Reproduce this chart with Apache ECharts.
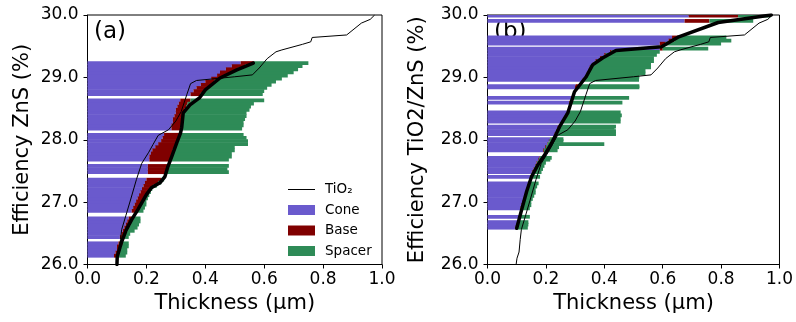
<!DOCTYPE html>
<html>
<head>
<meta charset="utf-8">
<script src="https://cdn.jsdelivr.net/npm/echarts@6/dist/echarts.min.js"></script>
<style>
  html, body { margin: 0; padding: 0; background: #ffffff; }
  #chart { width: 796px; height: 322px; }
</style>
</head>
<body>
<div id="chart"></div>
<script>
// ---- Axis ticks ----
const effTicks = [26, 27, 28, 29, 30];
const thickTicks = [0, 0.2, 0.4, 0.6, 0.8, 1.0];

// ---- (a) ZnS designs: efficiency (%) and layer thicknesses (µm) ----
const effA = [
  26.14, 26.19, 26.24, 26.29, 26.34,
  26.44, 26.49, 26.54, 26.59, 26.64, 26.69, 26.74,
  26.86, 26.91, 26.96, 27.01, 27.06, 27.11, 27.16, 27.21, 27.26, 27.31, 27.36,
  27.48, 27.53, 27.58,
  27.68, 27.73, 27.78, 27.83, 27.88, 27.93, 27.98, 28.03, 28.08,
  28.18, 28.23, 28.28, 28.33, 28.38, 28.43, 28.48, 28.53, 28.58, 28.63,
  28.73, 28.78, 28.83, 28.88, 28.93, 28.98, 29.03, 29.08, 29.13, 29.18, 29.23
];
const coneA = [
  0.090, 0.095, 0.100, 0.100, 0.105,
  0.110, 0.115, 0.120, 0.125, 0.130, 0.135, 0.140,
  0.150, 0.155, 0.160, 0.165, 0.170, 0.175, 0.180, 0.185, 0.190, 0.195, 0.200,
  0.205, 0.205, 0.205,
  0.210, 0.210, 0.215, 0.220, 0.230, 0.240, 0.250, 0.255, 0.260,
  0.285, 0.285, 0.290, 0.290, 0.295, 0.300, 0.300, 0.305, 0.310, 0.315,
  0.350, 0.360, 0.370, 0.385, 0.400, 0.420, 0.440, 0.450, 0.470, 0.490, 0.520
];
const baseA = [
  0.010, 0.010, 0.010, 0.015, 0.015,
  0.015, 0.015, 0.015, 0.015, 0.015, 0.015, 0.015,
  0.020, 0.020, 0.020, 0.025, 0.025, 0.025, 0.030, 0.030, 0.035, 0.045, 0.050,
  0.060, 0.065, 0.070,
  0.070, 0.075, 0.075, 0.070, 0.065, 0.060, 0.055, 0.055, 0.055,
  0.035, 0.035, 0.030, 0.035, 0.030, 0.025, 0.030, 0.030, 0.030, 0.035,
  0.035, 0.035, 0.040, 0.035, 0.030, 0.030, 0.030, 0.040, 0.040, 0.045, 0.045
];
const spacerA = [
  0.030, 0.030, 0.025, 0.025, 0.020,
  0.015, 0.015, 0.025, 0.030, 0.030, 0.030, 0.025,
  0.020, 0.020, 0.020, 0.010, 0.010, 0.010, 0.005, 0.005, 0.010, 0.010, 0.010,
  0.215, 0.205, 0.205,
  0.200, 0.205, 0.200, 0.210, 0.205, 0.245, 0.240, 0.230, 0.215,
  0.205, 0.210, 0.210, 0.210, 0.215, 0.215, 0.220, 0.220, 0.225, 0.250,
  0.210, 0.205, 0.200, 0.205, 0.210, 0.210, 0.210, 0.210, 0.205, 0.195, 0.185
];

// ---- (b) TiO2/ZnS designs ----
const effB = [
  26.59, 26.64, 26.68, 26.765,
  26.90, 26.95, 27.00, 27.05, 27.10, 27.15, 27.20, 27.25, 27.30,
  27.405,
  27.48, 27.53, 27.58, 27.63, 27.68, 27.71,
  27.83, 27.88, 27.93, 27.98, 28.01,
  28.09, 28.14, 28.19, 28.21,
  28.29, 28.34, 28.39, 28.44,
  28.595, 28.67, 28.84, 28.86,
  28.96, 29.01, 29.06, 29.11, 29.16, 29.21, 29.26, 29.31, 29.36, 29.41, 29.46,
  29.54, 29.59, 29.64,
  29.905, 29.99
];
const coneB = [
  0.094, 0.099, 0.103, 0.108,
  0.112, 0.116, 0.120, 0.124, 0.127, 0.130, 0.134, 0.137, 0.140,
  0.147,
  0.152, 0.158, 0.163, 0.168, 0.174, 0.178,
  0.190, 0.197, 0.204, 0.210, 0.214,
  0.230, 0.235, 0.240, 0.243,
  0.255, 0.262, 0.268, 0.272,
  0.280, 0.287, 0.300, 0.302,
  0.326, 0.334, 0.340, 0.345, 0.350, 0.360, 0.370, 0.385, 0.400, 0.420, 0.590,
  0.590, 0.620, 0.632,
  0.675, 0.689
];
const baseB = [
  0.002, 0.001, 0.002, 0.002,
  0.002, 0.002, 0.002, 0.002, 0.003, 0.002, 0.002, 0.003, 0.002,
  0.003,
  0.003, 0.002, 0.002, 0.002, 0.002, 0.002,
  0.003, 0.003, 0.002, 0.002, 0.002,
  0.002, 0.002, 0.002, 0.002,
  0.003, 0.003, 0.007, 0.006,
  0.003, 0.003, 0.010, 0.016,
  0.004, 0.003, 0.002, 0.002, 0.002, 0.003, 0.005, 0.010, 0.005, 0.005, 0.010,
  0.020, 0.020, 0.023,
  0.085, 0.169
];
const spacerB = [
  0.042, 0.040, 0.035, 0.035,
  0.031, 0.032, 0.028, 0.029, 0.030, 0.033, 0.029, 0.030, 0.033,
  0.030,
  0.030, 0.030, 0.030, 0.030, 0.039, 0.040,
  0.047, 0.045, 0.194, 0.048, 0.044,
  0.208, 0.203, 0.193, 0.195,
  0.198, 0.191, 0.185, 0.178,
  0.179, 0.195, 0.210, 0.202,
  0.189, 0.183, 0.199, 0.194, 0.208, 0.197, 0.195, 0.175, 0.175, 0.165, 0.156,
  0.190, 0.195, 0.163,
  0.150, 0.112
];

// ---- Reference curve: single TiO2 layer, thickness (µm) vs efficiency (%) ----
const tio2Curve = [
  [0.098, 26.00], [0.101, 26.10], [0.108, 26.20], [0.112, 26.40], [0.116, 26.56],
  [0.130, 26.78], [0.147, 27.05], [0.166, 27.36], [0.184, 27.62], [0.208, 27.80],
  [0.222, 27.92], [0.240, 28.07], [0.275, 28.16], [0.300, 28.30], [0.318, 28.45],
  [0.337, 28.72], [0.350, 28.90], [0.370, 28.95], [0.500, 29.01], [0.560, 29.04],
  [0.583, 29.15], [0.610, 29.30], [0.640, 29.41], [0.660, 29.44], [0.730, 29.53],
  [0.758, 29.57], [0.763, 29.64], [0.880, 29.68], [0.930, 29.87], [0.960, 29.93],
  [0.975, 30.00]
];

// ---- Best-design front (cone + base) for each panel ----
const frontA = [
  [0.100, 26.00], [0.101, 26.13], [0.115, 26.35], [0.132, 26.56], [0.150, 26.72],
  [0.171, 26.88], [0.200, 27.12], [0.217, 27.23], [0.246, 27.31], [0.263, 27.41],
  [0.273, 27.57], [0.286, 27.73], [0.303, 27.95], [0.316, 28.11], [0.320, 28.20],
  [0.325, 28.43], [0.348, 28.56], [0.380, 28.67], [0.400, 28.80], [0.450, 28.99],
  [0.507, 29.12], [0.563, 29.23]
];
const frontB = [
  [0.100, 26.58], [0.117, 26.88], [0.134, 27.17], [0.151, 27.41], [0.173, 27.60],
  [0.196, 27.76], [0.219, 27.94], [0.236, 28.10], [0.247, 28.21], [0.275, 28.43],
  [0.298, 28.77], [0.338, 29.01], [0.360, 29.20], [0.394, 29.31], [0.440, 29.43],
  [0.596, 29.49], [0.626, 29.57], [0.655, 29.65], [0.790, 29.88], [0.972, 30.00]
];

const COLORS = { cone: '#6a5acd', base: '#800000', spacer: '#2e8b57' };
const FONT = 'DejaVu Sans';
const HALF_ROW = 0.03;   // half the efficiency span each design row covers

function cumulative(a, b) { return a.map((v, i) => v + (b ? b[i] : 0)); }

// One custom series per layer: each row is a horizontal slab from start to end thickness
function layerSeries(name, color, idx, eff, starts, ends) {
  return {
    type: 'custom',
    name: name,
    xAxisIndex: idx,
    yAxisIndex: idx,
    z: 2,
    itemStyle: { color: color },
    encode: { x: [0, 1], y: 2 },
    data: eff.map((e, i) => [starts[i], ends[i], e]),
    renderItem: function (params, api) {
      const e = api.value(2);
      const p0 = api.coord([api.value(0), e + HALF_ROW]);
      const p1 = api.coord([api.value(1), e - HALF_ROW]);
      const cs = params.coordSys;
      const shape = echarts.graphic.clipRectByRect(
        { x: p0[0], y: p0[1], width: p1[0] - p0[0], height: p1[1] - p0[1] },
        { x: cs.x, y: cs.y, width: cs.width, height: cs.height }
      );
      return shape && { type: 'rect', shape: shape, style: { fill: color } };
    }
  };
}

function panelSeries(idx, eff, cone, base, spacer, front) {
  const zeros = eff.map(() => 0);
  const coneEnd = cumulative(cone);
  const baseEnd = cumulative(coneEnd, base);
  const spacerEnd = cumulative(baseEnd, spacer);
  return [
    layerSeries('Cone', COLORS.cone, idx, eff, zeros, coneEnd),
    layerSeries('Base', COLORS.base, idx, eff, coneEnd, baseEnd),
    layerSeries('Spacer', COLORS.spacer, idx, eff, baseEnd, spacerEnd),
    {
      type: 'line', name: 'front', xAxisIndex: idx, yAxisIndex: idx, z: 4,
      data: front, symbol: 'none', clip: true,
      lineStyle: { color: '#000', width: 3.5, cap: 'round', join: 'round' }
    },
    {
      type: 'line', name: 'TiO₂', xAxisIndex: idx, yAxisIndex: idx, z: 5,
      data: tio2Curve, symbol: 'none', clip: true,
      itemStyle: { color: '#000' },
      lineStyle: { color: '#000', width: 1 }
    }
  ];
}

const gridTop = 15, gridHeight = 249.5, gridWidth = 294.5;

function xAxisFor(idx) {
  return {
    type: 'value', gridIndex: idx,
    min: thickTicks[0], max: thickTicks[thickTicks.length - 1],
    interval: thickTicks[1] - thickTicks[0],
    name: 'Thickness (µm)', nameLocation: 'middle', nameGap: 25,
    nameTextStyle: { fontSize: 21, fontFamily: FONT, color: '#000' },
    axisLine: { show: true, onZero: false, lineStyle: { color: '#000', width: 1 } },
    axisTick: { show: true, length: 4, inside: false, lineStyle: { color: '#000' } },
    axisLabel: { fontSize: 17, fontFamily: FONT, color: '#000', margin: 7,
                 formatter: v => v.toFixed(1) },
    splitLine: { show: false }
  };
}

function yAxisFor(idx, name, gap) {
  return {
    type: 'value', gridIndex: idx,
    min: effTicks[0], max: effTicks[effTicks.length - 1],
    interval: effTicks[1] - effTicks[0],
    name: name, nameLocation: 'middle', nameGap: gap,
    nameTextStyle: { fontSize: 21, fontFamily: FONT, color: '#000' },
    axisLine: { show: true, onZero: false, lineStyle: { color: '#000', width: 1 } },
    axisTick: { show: true, length: 4, inside: false, lineStyle: { color: '#000' } },
    axisLabel: { fontSize: 17, fontFamily: FONT, color: '#000', margin: 9,
                 formatter: v => v.toFixed(1) },
    splitLine: { show: false }
  };
}

const chart = echarts.init(document.getElementById('chart'), null, { renderer: 'canvas' });
chart.setOption({
  animation: false,
  backgroundColor: '#ffffff',
  grid: [
    { left: 87.5, top: gridTop, width: gridWidth, height: gridHeight,
      show: true, borderColor: '#000', borderWidth: 1, backgroundColor: 'transparent' },
    { left: 487.5, top: gridTop, width: gridWidth, height: gridHeight,
      show: true, borderColor: '#000', borderWidth: 1, backgroundColor: 'transparent' }
  ],
  xAxis: [xAxisFor(0), xAxisFor(1)],
  yAxis: [yAxisFor(0, 'Efficiency ZnS (%)', 54), yAxisFor(1, 'Efficiency TiO2/ZnS (%)', 59)],
  legend: {
    orient: 'vertical', left: 288, top: 182.5, padding: 0,
    itemWidth: 27, itemHeight: 10, itemGap: 6.5,
    textStyle: { fontSize: 13.5, fontFamily: FONT, color: '#000',
                 padding: [0, 0, 0, 5] },
    data: [
      { name: 'TiO₂', icon: 'path://M0,0H27V1H0Z' },
      { name: 'Cone', icon: 'rect' },
      { name: 'Base', icon: 'rect' },
      { name: 'Spacer', icon: 'rect' }
    ]
  },
  graphic: [
    { type: 'text', left: 94, top: 21,
      style: { text: '(a)', fontSize: 23, fontFamily: FONT, fill: '#000' } },
    { type: 'text', left: 494, top: 21,
      style: { text: '(b)', fontSize: 23, fontFamily: FONT, fill: '#000' } }
  ],
  series: [].concat(
    panelSeries(0, effA, coneA, baseA, spacerA, frontA),
    panelSeries(1, effB, coneB, baseB, spacerB, frontB)
  )
});
</script>
</body>
</html>
